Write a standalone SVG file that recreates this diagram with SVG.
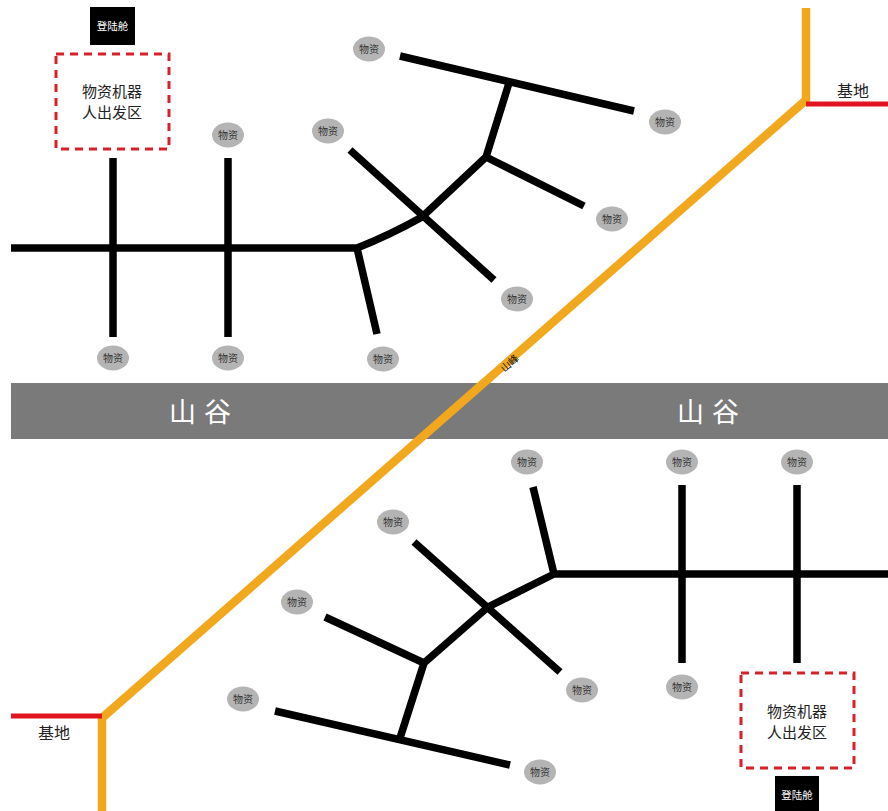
<svg xmlns="http://www.w3.org/2000/svg" width="888" height="811" viewBox="0 0 888 811">
<style>
.t{font-family:"Noto Sans CJK SC","Noto Sans",sans-serif}
.br{stroke:#000;stroke-width:7.5;fill:none;stroke-linejoin:round}
.res ellipse{fill:#b4b4b4}
.res text{font-size:10px;fill:#333;text-anchor:middle}
.zone rect{fill:#fff;stroke:#d8202a;stroke-width:3;stroke-dasharray:8 6}
.zone text{font-size:15px;fill:#222;text-anchor:middle}
.pod rect{fill:#000}
.pod text{font-size:10.5px;fill:#fff;text-anchor:middle}
.base{stroke:#e0151f;stroke-width:5}
.base-t{font-size:16px;fill:#222;text-anchor:middle}
.valley{font-size:27px;fill:#fff;text-anchor:middle;letter-spacing:8px}
</style>
<rect width="888" height="811" fill="#fff"/>
<g id="valley">
<rect x="11" y="383" width="877" height="56" fill="#7a7a7a"/>
<text class="t valley" x="204" y="422">山谷</text>
<text class="t valley" x="712" y="422">山谷</text>
</g>
<g id="connectors">
<path class="br" d="M11 248H357M113 158V337M228 158V337M357 248L377 334M357 248Q390 235 422 217L486 157L509 83M400 56L634 111M486 157L584 206M350 150L494 280"/>
<path class="br" d="M554 574H888M682 485V663M797 485V663M554 574L533 487M554 574L488 607L424 663L400 738M275 711L510 765M325 617L424 663M414 542L560 672"/>
</g>
<g id="ridge">
<polyline points="806,8 806,100 102,718 102,811" fill="none" stroke="#f1a81d" stroke-width="8.5" stroke-linejoin="miter"/>
<text class="t" x="0" y="0" font-size="10" fill="#111" text-anchor="middle" transform="translate(512 366) rotate(-41)">山峰</text>
</g>
<g id="base-top">
<line class="base" x1="806" y1="104" x2="888" y2="104"/>
<text class="t base-t" x="853" y="97">基地</text>
</g>
<g id="base-bottom">
<line class="base" x1="11" y1="716" x2="102" y2="716"/>
<text class="t base-t" x="54" y="739">基地</text>
</g>
<g id="zone-top" class="zone">
<rect x="56" y="54" width="113" height="95"/>
<text class="t" x="112" y="97">物资机器</text>
<text class="t" x="112" y="118">人出发区</text>
</g>
<g id="zone-bottom" class="zone">
<rect x="741" y="673" width="113" height="95"/>
<text class="t" x="797" y="717">物资机器</text>
<text class="t" x="797" y="738">人出发区</text>
</g>
<g id="pod-top" class="pod">
<rect x="90" y="7" width="45" height="38"/>
<text class="t" x="112.5" y="30">登陆舱</text>
</g>
<g id="pod-bottom" class="pod">
<rect x="775" y="776" width="44" height="35"/>
<text class="t" x="797" y="799">登陆舱</text>
</g>
<g id="res1" class="res"><ellipse cx="369" cy="49" rx="16" ry="12.5"/><text class="t" x="369" y="53">物资</text></g>
<g id="res2" class="res"><ellipse cx="665" cy="122" rx="16" ry="12.5"/><text class="t" x="665" y="126">物资</text></g>
<g id="res3" class="res"><ellipse cx="328" cy="131" rx="16" ry="12.5"/><text class="t" x="328" y="135">物资</text></g>
<g id="res4" class="res"><ellipse cx="228" cy="135" rx="16" ry="12.5"/><text class="t" x="228" y="139">物资</text></g>
<g id="res5" class="res"><ellipse cx="612" cy="219" rx="16" ry="12.5"/><text class="t" x="612" y="223">物资</text></g>
<g id="res6" class="res"><ellipse cx="517" cy="299" rx="16" ry="12.5"/><text class="t" x="517" y="303">物资</text></g>
<g id="res7" class="res"><ellipse cx="113" cy="358" rx="16" ry="12.5"/><text class="t" x="113" y="362">物资</text></g>
<g id="res8" class="res"><ellipse cx="228" cy="358" rx="16" ry="12.5"/><text class="t" x="228" y="362">物资</text></g>
<g id="res9" class="res"><ellipse cx="383" cy="359" rx="16" ry="12.5"/><text class="t" x="383" y="363">物资</text></g>
<g id="res10" class="res"><ellipse cx="527" cy="462" rx="16" ry="12.5"/><text class="t" x="527" y="466">物资</text></g>
<g id="res11" class="res"><ellipse cx="682" cy="462" rx="16" ry="12.5"/><text class="t" x="682" y="466">物资</text></g>
<g id="res12" class="res"><ellipse cx="797" cy="462" rx="16" ry="12.5"/><text class="t" x="797" y="466">物资</text></g>
<g id="res13" class="res"><ellipse cx="393" cy="522" rx="16" ry="12.5"/><text class="t" x="393" y="526">物资</text></g>
<g id="res14" class="res"><ellipse cx="297" cy="602" rx="16" ry="12.5"/><text class="t" x="297" y="606">物资</text></g>
<g id="res15" class="res"><ellipse cx="582" cy="690" rx="16" ry="12.5"/><text class="t" x="582" y="694">物资</text></g>
<g id="res16" class="res"><ellipse cx="682" cy="687" rx="16" ry="12.5"/><text class="t" x="682" y="691">物资</text></g>
<g id="res17" class="res"><ellipse cx="243" cy="699" rx="16" ry="12.5"/><text class="t" x="243" y="703">物资</text></g>
<g id="res18" class="res"><ellipse cx="540" cy="772" rx="16" ry="12.5"/><text class="t" x="540" y="776">物资</text></g>
</svg>
